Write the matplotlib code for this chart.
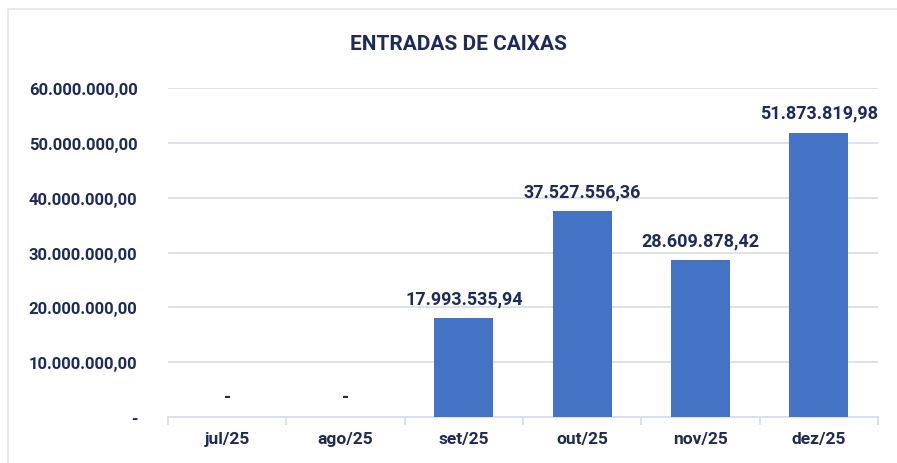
import matplotlib.pyplot as plt
from matplotlib.patches import Rectangle
import numpy as np

# dados do gráfico
meses = ["jul/25", "ago/25", "set/25", "out/25", "nov/25", "dez/25"]
entradas = [0.0, 0.0, 17993535.94, 37527556.36, 28609878.42, 51873819.98]
yticks = [0, 10e6, 20e6, 30e6, 40e6, 50e6, 60e6]

azul = "#4472C4"
texto = "#1F2A5C"
cinza = "#D9DEE8"


def fmt_br(v):
    # formato brasileiro: 1.234.567,89 ; zero vira "-"
    if v == 0:
        return "-"
    s = f"{v:,.2f}"
    return s.replace(",", "X").replace(".", ",").replace("X", ".")


plt.rcParams["font.family"] = ["Roboto", "DejaVu Sans"]

fig = plt.figure(figsize=(8.97, 4.64), dpi=100)
ax = fig.add_axes([0.1873, 0.0991, 0.7915, 0.7089])

# moldura do gráfico
fig.patches.append(Rectangle((8 / 897, -0.1), 1.2, (464 - 10) / 464 + 0.1,
                             transform=fig.transFigure, fill=False,
                             edgecolor="#E3E6EC", linewidth=1.2))

x = np.arange(len(meses))
ax.bar(x, entradas, width=0.5, color=azul, zorder=3)

for xi, v in zip(x, entradas):
    ax.annotate(fmt_br(v), (xi, v), xytext=(0, 8), textcoords="offset points",
                ha="center", va="bottom", fontsize=13, fontweight="bold",
                color=texto)

ax.set_xlim(-0.5, len(meses) - 0.5)
ax.set_ylim(0, 60e6)
ax.set_yticks(yticks)
ax.set_yticklabels([fmt_br(v) for v in yticks])
ax.set_xticks(x)
ax.set_xticklabels(meses)
ax.set_xticks(np.arange(len(meses) + 1) - 0.5, minor=True)

ax.grid(axis="y", color=cinza, linewidth=1.3, zorder=0)
for s in ["top", "right", "left"]:
    ax.spines[s].set_visible(False)
ax.spines["bottom"].set_color(cinza)
ax.spines["bottom"].set_linewidth(1.3)

ax.tick_params(axis="y", length=0, pad=22, labelsize=12, labelcolor=texto)
ax.tick_params(axis="x", which="major", length=0, pad=10, labelsize=12.5,
               labelcolor=texto)
ax.tick_params(axis="x", which="minor", length=6, width=1.3, color=cinza)
for lbl in ax.get_xticklabels() + ax.get_yticklabels():
    lbl.set_fontweight("bold")

fig.text(458 / 897, 1 - 44 / 464, "ENTRADAS DE CAIXAS", ha="center",
         va="center", fontsize=15, fontweight="bold", color=texto)

fig.savefig("out.png", dpi=100)
